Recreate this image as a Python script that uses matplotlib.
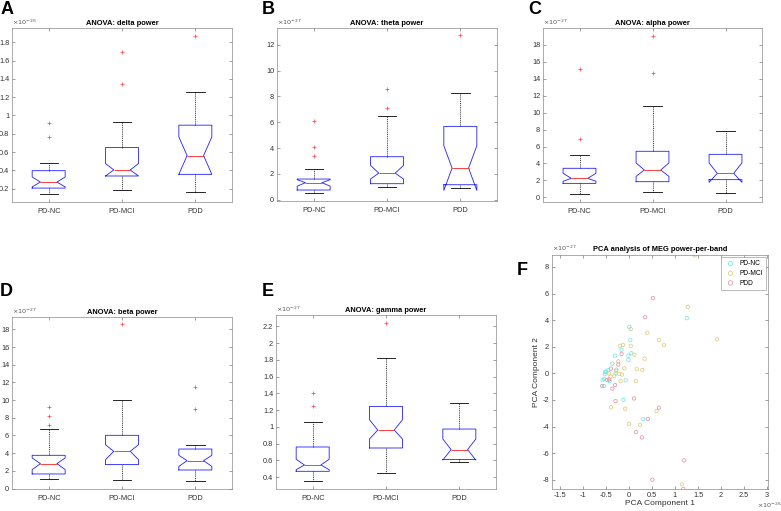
import matplotlib
matplotlib.use("Agg")
import matplotlib.pyplot as plt
from matplotlib.ticker import FuncFormatter

plt.rcParams["font.family"] = ["Liberation Sans", "DejaVu Sans"]
plt.rcParams["axes.unicode_minus"] = False

W, H = 781, 511

# ================================
# box plot data (values in units of 10^exp)
# ================================
groups = ["PD-NC", "PD-MCI", "PDD"]
bands = ["delta", "theta", "alpha", "beta", "gamma"]
exps = [-26, -27, -27, -27, -27]

box_med = [[0.273, 0.405, 0.562], [1.32, 2.06, 2.45], [2.24, 3.23, 2.84],
           [2.82, 4.21, 3.16], [0.547, 0.963, 0.730]]
box_q1 = [[0.207, 0.339, 0.357], [0.75, 1.24, 1.16], [1.65, 1.85, 2.09],
          [1.65, 2.71, 2.10], [0.471, 0.749, 0.612]]
box_q3 = [[0.397, 0.650, 0.894], [1.60, 3.33, 5.68], [3.43, 5.44, 5.08],
          [3.76, 6.02, 4.47], [0.761, 1.245, 0.975]]
box_lo = [[0.138, 0.186, 0.167], [0.52, 0.98, 0.88], [0.43, 0.63, 0.51],
          [1.09, 0.98, 0.86], [0.356, 0.448, 0.580]]
box_hi = [[0.478, 0.934, 1.252], [2.37, 6.45, 8.23], [5.00, 10.83, 7.84],
          [6.77, 9.96, 4.92], [1.058, 1.820, 1.280]]
box_cilo = [[0.220, 0.339, 0.357], [1.05, 1.60, 0.72], [1.90, 2.48, 1.77],
            [2.14, 3.27, 2.50], [0.490, 0.856, 0.605]]
box_cihi = [[0.328, 0.475, 0.766], [1.55, 2.66, 4.18], [2.84, 4.06, 4.06],
            [3.46, 4.96, 3.76], [0.614, 1.086, 0.856]]
box_out = [[[0.763, 0.923], [1.347, 1.690], [1.866]],
           [[3.40, 4.10, 6.09], [7.12, 8.60], [12.75]],
           [[6.90, 15.16], [14.65, 19.10], []],
           [[7.18, 8.20, 9.21], [18.60], [8.98, 11.43]],
           [[1.249, 1.400], [2.236], []]]

yticks = [[0.2, 0.4, 0.6, 0.8, 1, 1.2, 1.4, 1.6, 1.8],
          [0, 2, 4, 6, 8, 10, 12],
          [0, 2, 4, 6, 8, 10, 12, 14, 16, 18],
          [0, 2, 4, 6, 8, 10, 12, 14, 16, 18],
          [0.4, 0.6, 0.8, 1, 1.2, 1.4, 1.6, 1.8, 2, 2.2]]
ylims = [(0.055, 1.955), (-0.1, 13.3), (-0.55, 20.0), (-0.05, 19.4), (0.26, 2.335)]

# ================================
# PCA scatter data (x in 1e-26, y in 1e-27)
# ================================
nc_x = [1.26, 0.01, 0.03, -0.16, -0.30, -0.01, -0.01, 0.05, -0.36, -0.27, -0.45,
        -0.52, -0.49, -0.52, -0.29, -0.54, -0.57, -0.42, -0.07, -0.54, -0.12, 0.31]
nc_y = [4.15, 3.50, 2.49, 1.77, 1.33, 1.32, 1.00, 1.52, 0.73, 0.28, 0.24,
        0.11, 0.14, -0.06, -0.01, -0.41, -0.51, -0.58, -0.53, -0.95, -1.99, -3.45]
mci_x = [1.43, 1.28, 0.40, 0.04, 1.91, 0.65, 0.76, -0.13, 0.04, -0.19, 0.12, 0.34,
         -0.23, -0.10, 0.17, 0.29, -0.21, -0.15, -0.32, -0.18, 0.15, -0.39, -0.08,
         0.60, 0.00, 0.24, 1.15, -0.43, -0.40, -0.28]
mci_y = [8.87, 5.00, 3.05, 3.33, 2.56, 2.51, 2.12, 2.14, 2.07, 2.07, 1.40, 1.10,
         0.90, 0.38, 0.31, 0.26, -0.04, -0.09, -0.20, -0.58, -0.58, -2.56, -2.66,
         -2.83, -3.80, -3.87, -8.35, 0.00, -0.25, 0.20]
pdd_x = [0.52, 0.35, -0.16, -0.23, -0.39, -0.43, -0.58, -0.36, -0.30, 0.11, -0.29,
         0.65, 0.41, 0.15, 0.28, 1.20, 0.51, 1.18, -0.47]
pdd_y = [5.66, 4.22, 1.45, 0.66, 0.36, -0.46, -0.95, -1.15, -0.88, -1.89, -2.09,
         -2.58, -3.43, -4.42, -4.82, -6.55, -8.00, -8.70, -0.51]


def px_rect(l, t, r, b):
    return [l / W, 1 - b / H, (r - l) / W, (b - t) / H]


def style_axes(ax):
    for s in ax.spines.values():
        s.set_color("#8a8a8a")
        s.set_linewidth(0.5)
    ax.tick_params(direction="in", length=2, width=0.4, top=True, right=True,
                   labelsize=5.3, pad=2, color="#555555", labelcolor="#333333")
    ax.yaxis.set_major_formatter(FuncFormatter(lambda v, p: f"{v:g}"))


fig = plt.figure(figsize=(W / 100, H / 100), dpi=100)

rects = [(12, 28, 232, 202), (277, 28, 497, 201), (543, 28, 762, 202),
         (12, 317, 232, 489), (276, 315, 496, 489)]
letters = ["A", "B", "C", "D", "E"]
letter_pos = [(1, 1), (262, 1), (528, 1), (0, 283), (262, 283)]

for i, band in enumerate(bands):
    ax = fig.add_axes(px_rect(*rects[i]))
    stats = []
    for j, g in enumerate(groups):
        stats.append({
            "med": box_med[i][j], "q1": box_q1[i][j], "q3": box_q3[i][j],
            "whislo": box_lo[i][j], "whishi": box_hi[i][j],
            "cilo": box_cilo[i][j], "cihi": box_cihi[i][j],
            "fliers": box_out[i][j], "label": g,
        })
    ax.bxp(stats, positions=[1, 2, 3], widths=0.45, shownotches=True, capwidths=0.25,
           boxprops=dict(color="#2020ff", linewidth=0.6),
           medianprops=dict(color="#ff2020", linewidth=0.6),
           whiskerprops=dict(color="black", linewidth=0.5, linestyle=(0, (1.5, 1.2))),
           capprops=dict(color="black", linewidth=0.6),
           flierprops=dict(marker="+", markeredgecolor="#ff4040", markersize=3.5,
                           markeredgewidth=0.5))
    ax.set_xlim(0.5, 3.5)
    ax.set_ylim(*ylims[i])
    ax.set_yticks(yticks[i])
    style_axes(ax)
    ax.tick_params(axis="x", pad=4)
    ax.set_title(f"ANOVA: {band} power", fontsize=5.4, fontweight="bold", pad=2)
    ax.text(0.0, 1.008, rf"$\times10^{{{exps[i]}}}$", transform=ax.transAxes,
            fontsize=4.6, color="#555555", ha="left", va="bottom")
    lx, ly = letter_pos[i]
    fig.text(lx / W, 1 - ly / H, letters[i], fontsize=13, fontweight="bold",
             ha="left", va="top")

# ================================
# F: PCA scatter
# ================================
ax = fig.add_axes(px_rect(552, 255, 768, 489))
ax.scatter(nc_x, nc_y, s=6, facecolors="none", edgecolors="#6fe3e6", linewidths=0.5,
           label="PD-NC")
ax.scatter(mci_x, mci_y, s=6, facecolors="none", edgecolors="#e2c46e", linewidths=0.5,
           label="PD-MCI")
ax.scatter(pdd_x, pdd_y, s=6, facecolors="none", edgecolors="#e08c9c", linewidths=0.5,
           label="PDD")
ax.set_xlim(-1.67, 3.02)
ax.set_ylim(-8.7, 8.9)
ax.set_xticks([-1.5, -1, -0.5, 0, 0.5, 1, 1.5, 2, 2.5, 3])
ax.set_yticks([-8, -6, -4, -2, 0, 2, 4, 6, 8])
style_axes(ax)
ax.xaxis.set_major_formatter(FuncFormatter(lambda v, p: f"{v:g}"))
ax.set_title("PCA analysis of MEG power-per-band", fontsize=5.4, fontweight="bold", pad=3)
ax.set_xlabel("PCA Component 1", fontsize=6, color="#333333", labelpad=1)
ax.set_ylabel("PCA Component 2", fontsize=6, color="#333333", labelpad=2)
ax.text(0.0, 1.008, r"$\times10^{-27}$", transform=ax.transAxes,
        fontsize=4.6, color="#555555", ha="left", va="bottom")
fig.text(769 / W, 1 - 505 / H, r"$\times10^{-26}$", fontsize=4.6, color="#555555",
         ha="center", va="center")
leg = ax.legend(loc="upper right", fontsize=4.8, frameon=True, fancybox=False,
                markerscale=1.3, borderpad=0.5, handletextpad=0.3, labelspacing=0.4,
                borderaxespad=0.3)
leg.get_frame().set_edgecolor("#8a8a8a")
leg.get_frame().set_linewidth(0.5)
fig.text(517 / W, 1 - 262 / H, "F", fontsize=13, fontweight="bold", ha="left", va="top")

fig.savefig("out.png", dpi=100)
